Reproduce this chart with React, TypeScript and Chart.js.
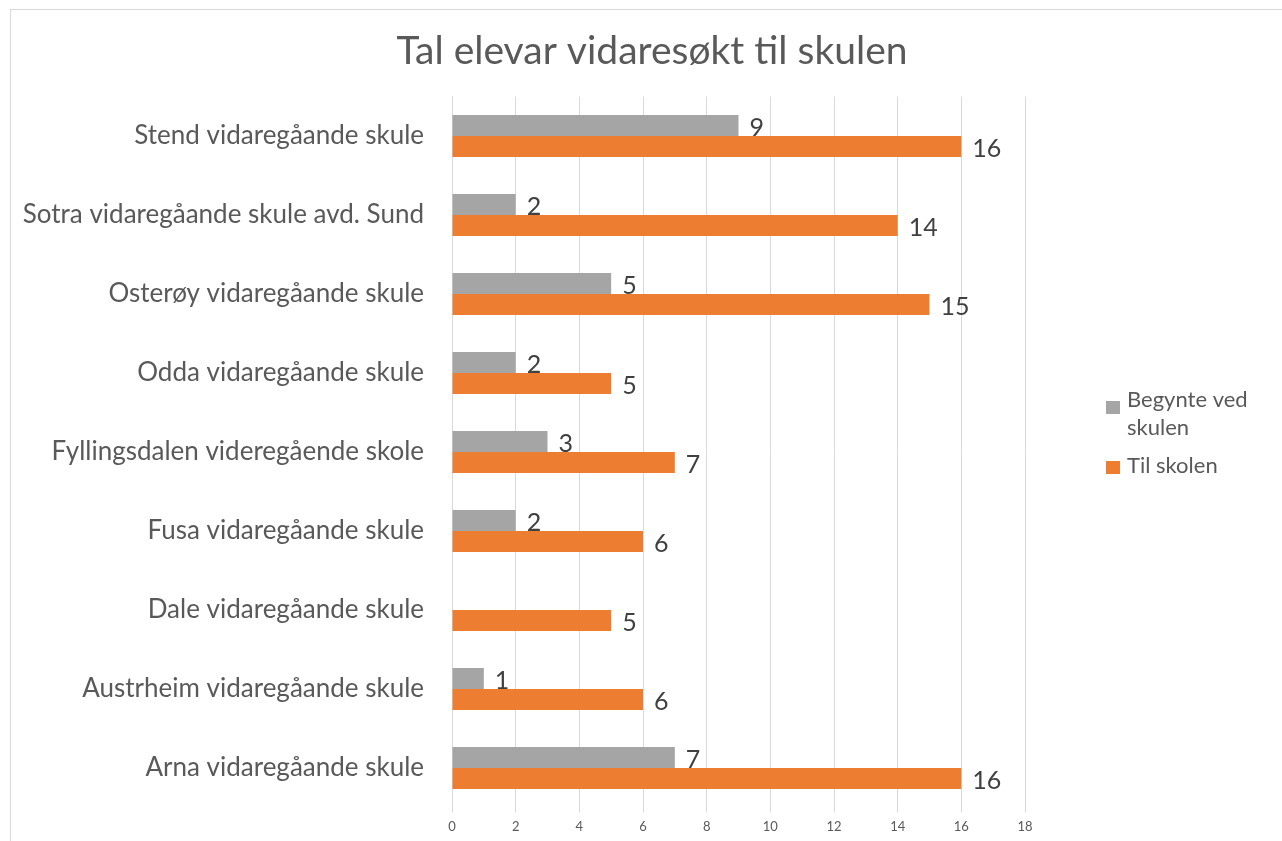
import React, { useEffect, useRef } from "react";
import { Chart, registerables } from "chart.js";

Chart.register(...registerables);

const categories: string[] = [
  "Stend vidaregåande skule",
  "Sotra vidaregåande skule avd. Sund",
  "Osterøy vidaregåande skule",
  "Odda vidaregåande skule",
  "Fyllingsdalen videregående skole",
  "Fusa vidaregåande skule",
  "Dale vidaregåande skule",
  "Austrheim vidaregåande skule",
  "Arna vidaregåande skule",
];

const begynteVedSkulen: number[] = [9, 2, 5, 2, 3, 2, 0, 1, 7];
const tilSkolen: number[] = [16, 14, 15, 5, 7, 6, 5, 6, 16];

const titleText = "Tal elevar vidaresøkt til skulen";
const seriesNames: string[][] = [["Begynte ved", "skulen"], ["Til skolen"]];
const seriesColors: string[] = ["#a5a5a5", "#ed7d31"];

const FONT = "Lato, 'Open Sans', sans-serif";

const overlayPlugin = {
  id: "overlay",
  afterDatasetsDraw(chart: any) {
    const ctx = chart.ctx;
    ctx.save();
    // data labels
    ctx.font = `25px ${FONT}`;
    ctx.fillStyle = "#404040";
    ctx.textAlign = "left";
    ctx.textBaseline = "middle";
    chart.data.datasets.forEach((ds: any, di: number) => {
      const meta = chart.getDatasetMeta(di);
      meta.data.forEach((bar: any, i: number) => {
        const v = ds.data[i];
        if (!v) return;
        ctx.fillText(String(v), bar.x + 11, bar.y + 2);
      });
    });
    // title
    ctx.font = `39px ${FONT}`;
    ctx.fillStyle = "#595959";
    ctx.textAlign = "center";
    ctx.textBaseline = "alphabetic";
    ctx.fillText(titleText, 641, 54);
    // legend
    ctx.font = `22px ${FONT}`;
    ctx.textAlign = "left";
    const legendRows = [
      { box: 391, lines: [397, 425] },
      { box: 451, lines: [463] },
    ];
    legendRows.forEach((row, si) => {
      ctx.fillStyle = seriesColors[si];
      ctx.fillRect(1095, row.box, 14, 13);
      ctx.fillStyle = "#595959";
      seriesNames[si].forEach((line, li) => {
        ctx.fillText(line, 1116, row.lines[li]);
      });
    });
    ctx.restore();
  },
};

export default function App() {
  const ref = useRef<HTMLCanvasElement | null>(null);
  useEffect(() => {
    if (!ref.current) return;
    const chart = new Chart(ref.current, {
      type: "bar",
      data: {
        labels: categories,
        datasets: [
          {
            label: seriesNames[0].join(" "),
            data: begynteVedSkulen,
            backgroundColor: seriesColors[0],
            borderWidth: 0,
            categoryPercentage: 0.532,
            barPercentage: 1,
          },
          {
            label: seriesNames[1].join(" "),
            data: tilSkolen,
            backgroundColor: seriesColors[1],
            borderWidth: 0,
            categoryPercentage: 0.532,
            barPercentage: 1,
          },
        ],
      },
      options: {
        indexAxis: "y",
        animation: false,
        responsive: false,
        maintainAspectRatio: false,
        layout: { padding: { top: 86.5, right: 257, bottom: 0, left: 0 } },
        plugins: {
          legend: { display: false },
          title: { display: false },
          tooltip: { enabled: false },
        },
        scales: {
          x: {
            min: 0,
            max: 18,
            ticks: {
              stepSize: 2,
              color: "#595959",
              font: { family: FONT, size: 13 },
              padding: 7,
            },
            grid: { color: "#d9d9d9", tickLength: 5, drawTicks: true },
            border: { display: false },
            afterFit: (s: any) => {
              s.height = 33.5;
              s.paddingLeft = 0;
              s.paddingRight = 0;
            },
          },
          y: {
            ticks: {
              color: "#595959",
              font: { family: FONT, size: 26 },
              padding: 28,
            },
            grid: { display: false, drawTicks: false },
            border: { display: true, color: "#d9d9d9" },
            afterFit: (s: any) => {
              s.width = 441;
              s.paddingTop = 0;
              s.paddingBottom = 0;
            },
          },
        },
      },
      plugins: [overlayPlugin],
    });
    return () => chart.destroy();
  }, []);

  return (
    <div
      style={{
        position: "fixed",
        left: 10,
        top: 9,
        width: 1272,
        height: 832,
        boxSizing: "border-box",
        borderTop: "1px solid #d9d9d9",
        borderLeft: "1px solid #d9d9d9",
        background: "#fff",
      }}
    >
      <canvas ref={ref} width={1271} height={831} style={{ display: "block" }} />
    </div>
  );
}
